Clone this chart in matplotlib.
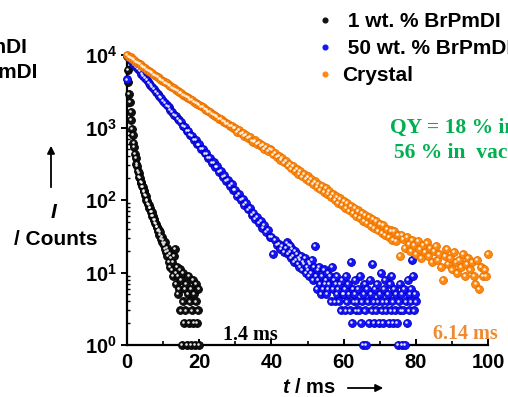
import numpy as np
import matplotlib
matplotlib.use("Agg")
import matplotlib.pyplot as plt
from matplotlib.lines import Line2D
from matplotlib.transforms import offset_copy
from matplotlib.ticker import LogLocator, NullFormatter, MultipleLocator

plt.rcParams['font.family'] = 'Liberation Sans'
plt.rcParams['font.weight'] = 'bold'
plt.rcParams['mathtext.fontset'] = 'custom'
plt.rcParams['mathtext.bf'] = 'Liberation Sans:bold'
plt.rcParams['mathtext.it'] = 'Liberation Sans:italic:bold'
plt.rcParams['mathtext.rm'] = 'Liberation Sans:bold'

# photon counts
# 1 wt.% BrPmDI, every 0.2 ms
black = [9800, 6300, 4250, 2900, 2230, 1630, 1280, 960, 790, 620,
         535, 430, 380, 318, 293, 252, 238, 209, 199, 178,
         173, 154, 150, 134, 131, 116, 113, 101, 98, 88,
         86, 78, 77, 69, 68, 61, 60, 54, 53, 48,
         47, 42, 43, 37, 39, 33, 36, 29, 31, 26,
         28, 24, 21, 26, 19, 22, 17, 20, 14, 18,
         12, 16, 11, 14, 9, 17, 21, 10, 7, 12,
         5, 9, 6, 11, 3, 8, 1, 4, 10, 2,
         6, 3, 7, 1, 5, 9, 2, 4, 6, 1,
         3, 8, 2, 5, 1, 4, 7, 2, 3, 6,
         1]
# 50 wt.% BrPmDI, every 0.5 ms up to 43.5 ms
blue_early = [4600, 9200, 8450, 7950, 7340, 6880, 6360, 5960, 5510, 5170,
              4780, 4480, 4150, 3880, 3590, 3380, 3110, 2930, 2690, 2540,
              2330, 2210, 2020, 1920, 1750, 1660, 1510, 1440, 1310, 1250,
              1190, 1040, 1030, 900, 890, 785, 775, 680, 668, 585,
              585, 505, 505, 440, 440, 380, 382, 328, 330, 284,
              290, 244, 250, 210, 218, 182, 190, 156, 166, 136,
              136, 114, 120, 99, 104, 86, 90, 74, 78, 63,
              67, 55, 58, 48, 51, 41, 45, 36, 39, 31,
              31, 18, 28, 24, 25, 21, 23, 19]
# 50 wt.% BrPmDI, every 0.25 ms from 44 ms
blue_tail = [22, 26, 18, 24, 19, 23, 16, 21, 17, 14, 20, 15, 18, 13, 16, 12,
             15, 17, 11, 14, 13, 16, 10, 12, 11, 14, 9, 13, 10, 15, 8, 12,
             23, 9, 6, 11, 8, 12, 7, 5, 9, 6, 11, 7, 8, 5, 10, 6,
             7, 9, 4, 12, 6, 8, 4, 7, 9, 5, 6, 4, 7, 3, 8, 5,
             5, 6, 3, 9, 4, 7, 5, 3, 14, 2, 6, 4, 5, 8, 3, 4,
             6, 3, 9, 2, 4, 1, 5, 7, 3, 1, 6, 4, 2, 8, 5, 3,
             13, 4, 2, 6, 3, 7, 4, 2, 5, 10, 3, 4, 2, 6, 8, 3,
             4, 5, 2, 7, 3, 9, 4, 2, 6, 3, 5, 2, 1, 4, 7, 3,
             5, 1, 3, 6, 1, 4, 2, 8, 3, 5, 4, 6, 15, 9, 3, 5,
             4]
# Crystal, every 0.5 ms
orange = [9950, 9520, 9280, 8850, 8520, 8090, 7820, 7480, 7200, 6860,
          6640, 6300, 6110, 5820, 5610, 5360, 5180, 4920, 4760, 4560,
          4370, 4180, 4060, 3860, 3750, 3570, 3460, 3300, 3210, 3050,
          2970, 2830, 2760, 2630, 2560, 2440, 2390, 2270, 2210, 2100,
          2050, 1950, 1900, 1800, 1760, 1670, 1630, 1540, 1500, 1430,
          1390, 1320, 1300, 1220, 1200, 1140, 1110, 1060, 1040, 980,
          990, 880, 920, 830, 850, 760, 800, 715, 740, 660,
          640, 665, 590, 620, 555, 580, 510, 545, 480, 505,
          490, 425, 450, 390, 410, 355, 378, 330, 345, 300,
          318, 272, 295, 252, 268, 232, 250, 212, 228, 196,
          212, 180, 196, 165, 180, 152, 168, 140, 155, 130,
          145, 120, 132, 110, 122, 101, 112, 92, 105, 86,
          96, 78, 90, 72, 83, 66, 77, 61, 72, 57,
          66, 51, 62, 48, 58, 44, 55, 41, 51, 38,
          47, 35, 45, 33, 40, 31, 38, 28, 37, 27,
          33, 17, 33, 29, 22, 31, 25, 20, 28, 24,
          18, 27, 21, 16, 24, 19, 26, 17, 22, 14,
          20, 23, 15, 18, 12, 8, 17, 21, 13, 16,
          11, 19, 14, 10, 15, 12, 18, 9, 13, 16,
          11, 14, 9, 7, 15, 6, 12, 9, 11, 9,
          18]

t_black = 0.2 * np.arange(len(black))
t_blue = np.concatenate([0.5 * np.arange(len(blue_early)),
                         44 + 0.25 * np.arange(len(blue_tail))])
blue = blue_early + blue_tail
t_orange = 0.5 * np.arange(len(orange))

labels = [' 1 wt. % BrPmDI', ' 50 wt. % BrPmDI', 'Crystal']

W, H = 508, 397
fig = plt.figure(figsize=(W / 100, H / 100), dpi=100)
ax = fig.add_axes([127 / W, 1 - 345 / H, (488 - 127) / W, (345 - 55) / H])

hl = offset_copy(ax.transData, fig=fig, x=-0.6, y=0.6, units='points')


def balls(t, y, face, edge, z):
    ax.scatter(t, y, s=32, c=face, edgecolors=edge, linewidths=0.6,
               zorder=z, clip_on=False)
    ax.scatter(t, y, s=3.5, c='white', linewidths=0, alpha=0.9,
               zorder=z + 0.1, clip_on=False, transform=hl)


balls(t_black, black, '#111111', '#000000', 3)
balls(t_blue, blue, '#1414ff', '#0000b4', 4)
balls(t_orange, orange, '#ff8a10', '#e87000', 5)

ax.set_yscale('log')
ax.set_xlim(0, 100)
ax.set_ylim(1, 1e4)
for s in ['top', 'right']:
    ax.spines[s].set_visible(False)
for s in ['left', 'bottom']:
    ax.spines[s].set_linewidth(1.6)

ax.set_xticks([0, 20, 40, 60, 80, 100])
ax.xaxis.set_minor_locator(MultipleLocator(10))
ax.tick_params(axis='x', which='major', direction='in', length=4, width=1.4,
               labelsize=14.5, pad=6)
ax.tick_params(axis='x', which='minor', direction='in', length=3, width=1.2)

ax.set_yticks([1, 10, 100, 1000, 10000])
ax.set_yticklabels([r'$\mathbf{10^{%d}}$' % i for i in range(5)])
ax.yaxis.set_minor_locator(LogLocator(base=10, subs=range(2, 10)))
ax.yaxis.set_minor_formatter(NullFormatter())
ax.tick_params(axis='y', which='major', direction='out', length=4, width=1.4,
               labelsize=14.5, pad=3)
ax.tick_params(axis='y', which='minor', direction='in', length=2.5, width=1.0)

# legend
handles = [Line2D([], [], ls='', marker='o', markersize=3.4, markerfacecolor=c,
                  markeredgecolor=c) for c in ['#111111', '#1414ff', '#ff8a10']]
fig.legend(handles, labels, loc='upper left', bbox_to_anchor=(318 / W, 1 - 12 / H),
           frameon=False, fontsize=15, handlelength=0.7, handletextpad=0.45,
           labelspacing=0.38, borderpad=0, borderaxespad=0)

# cropped legend of neighbouring panel
fig.text(27 / W, 1 - 53 / H, '1 wt. % BrPmDI', ha='right', va='baseline', fontsize=15)
fig.text(37 / W, 1 - 78 / H, '50 wt. % BrPmDI', ha='right', va='baseline', fontsize=15)

# annotations
serif = dict(family='Liberation Serif', weight='bold')
fig.text(390 / W, 1 - 133 / H, 'QY = 18 % in air', color='#00b050', fontsize=15.5,
         va='baseline', **serif)
fig.text(394 / W, 1 - 158 / H, '56 % in  vacuum', color='#00b050', fontsize=15.5,
         va='baseline', **serif)
fig.text(223 / W, 1 - 340 / H, '1.4 ms', color='black', fontsize=14.5,
         va='baseline', **serif)
fig.text(433 / W, 1 - 339 / H, '6.14 ms', color='#f08a30', fontsize=14.5,
         va='baseline', **serif)

# axis labels
fig.text(54 / W, 1 - 218 / H, r'$I$', ha='center', va='baseline', fontsize=15)
fig.text(56 / W, 1 - 245 / H, '/ Counts', ha='center', va='baseline', fontsize=15)
fig.text(282 / W, 1 - 393 / H, r'$t$ / ms', ha='left', va='baseline', fontsize=14.5)
arrow = dict(arrowstyle='-|>', color='black', lw=1.3, mutation_scale=11)
ax.annotate('', xy=(51 / W, 1 - 143 / H), xytext=(51 / W, 1 - 190 / H),
            xycoords='figure fraction', arrowprops=arrow)
ax.annotate('', xy=(386 / W, 1 - 388 / H), xytext=(345 / W, 1 - 388 / H),
            xycoords='figure fraction', arrowprops=arrow)

fig.savefig('out.png', dpi=100)
